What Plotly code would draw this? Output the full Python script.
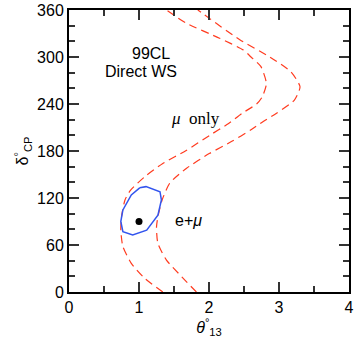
import plotly.graph_objects as go

# Data
inner_y = [0, 17.5, 36.6, 58, 79, 96, 117.5, 130, 147, 164, 181, 200, 215, 228, 240, 249, 266, 288, 300, 309, 324, 343, 360]
inner_x = [1.34, 1.08, 0.89, 0.77, 0.74, 0.75, 0.80, 0.88, 1.08, 1.34, 1.68, 2.01, 2.28, 2.47, 2.68, 2.76, 2.82, 2.74, 2.60, 2.49, 2.15, 1.68, 1.39]

outer_y = [0, 19.5, 41, 62, 83, 96, 117.5, 139, 158, 177, 192, 207, 217.5, 228, 245, 262, 281, 300, 322, 349, 360]
outer_x = [1.82, 1.61, 1.39, 1.27, 1.25, 1.27, 1.33, 1.44, 1.68, 2.01, 2.32, 2.60, 2.77, 2.96, 3.22, 3.30, 3.17, 2.87, 2.44, 2.01, 1.84]

combo_x = [1.01, 1.10, 1.30, 1.32, 1.27, 1.11, 0.91, 0.77, 0.74, 0.77, 0.89, 1.01]
combo_y = [133, 134.5, 128, 117.5, 98, 79, 72.8, 77, 90, 104.7, 124, 133]

best_x = [1.0]
best_y = [90]

x_ticks = [0, 1, 2, 3, 4]
y_ticks = [0, 60, 120, 180, 240, 300, 360]

RED = "#ff3b1f"
BLUE = "#3355ee"
SANS = "Liberation Sans, Arial, sans-serif"
SERIF = "Liberation Serif, Times New Roman, serif"
TICKC = "#333"

fig = go.Figure()
for xs, ys in [(inner_x, inner_y), (outer_x, outer_y)]:
    fig.add_trace(go.Scatter(x=xs, y=ys, mode="lines",
                             line=dict(color=RED, width=1.2, dash="8px,5px", shape="spline", smoothing=0.6),
                             showlegend=False))
fig.add_trace(go.Scatter(x=combo_x, y=combo_y, mode="lines",
                         line=dict(color=BLUE, width=1.5), showlegend=False))
fig.add_trace(go.Scatter(x=best_x, y=best_y, mode="markers",
                         marker=dict(color="black", size=7), showlegend=False))

fig.update_xaxes(range=[0, 4], tickvals=x_ticks, ticks="inside", ticklen=10, tickwidth=1.5, tickcolor=TICKC,
                 showline=True, linecolor="black", linewidth=2, mirror="allticks",
                 minor=dict(dtick=0.5, ticks="inside", ticklen=6, tickcolor=TICKC, tickwidth=1.5),
                 title=dict(text="<i>θ</i><sup>°</sup><sub>13</sub>", standoff=4,
                            font=dict(family=SANS, size=16, color="black")))
fig.update_yaxes(range=[0, 360], tickvals=y_ticks, ticks="inside", ticklen=10, tickwidth=1.5, tickcolor=TICKC,
                 showline=True, linecolor="black", linewidth=2, mirror="allticks",
                 minor=dict(dtick=20, ticks="inside", ticklen=6, tickcolor=TICKC, tickwidth=1.5),
                 title=dict(text="δ<sup>°</sup><sub>CP</sub>", standoff=4,
                            font=dict(family=SANS, size=16, color="black")))

ann = []
ann.append(dict(x=1.17, y=305, text="99CL", showarrow=False, font=dict(family=SANS, size=16, color="black")))
ann.append(dict(x=1.03, y=281, text="Direct WS", showarrow=False, font=dict(family=SANS, size=16, color="black")))
ann.append(dict(x=1.8, y=221, text="<i>μ</i>  only", showarrow=False, font=dict(family=SERIF, size=17, color="black")))
ann.append(dict(x=1.7, y=90.7, text="e+<i>μ</i>", showarrow=False, font=dict(family=SANS, size=16, color="black")))

fig.update_layout(width=354, height=345, margin=dict(l=69, r=5, t=10, b=53, autoexpand=False),
                  font=dict(family=SANS, size=16, color="black"),
                  plot_bgcolor="white", annotations=ann)

fig.write_html("out.html")
